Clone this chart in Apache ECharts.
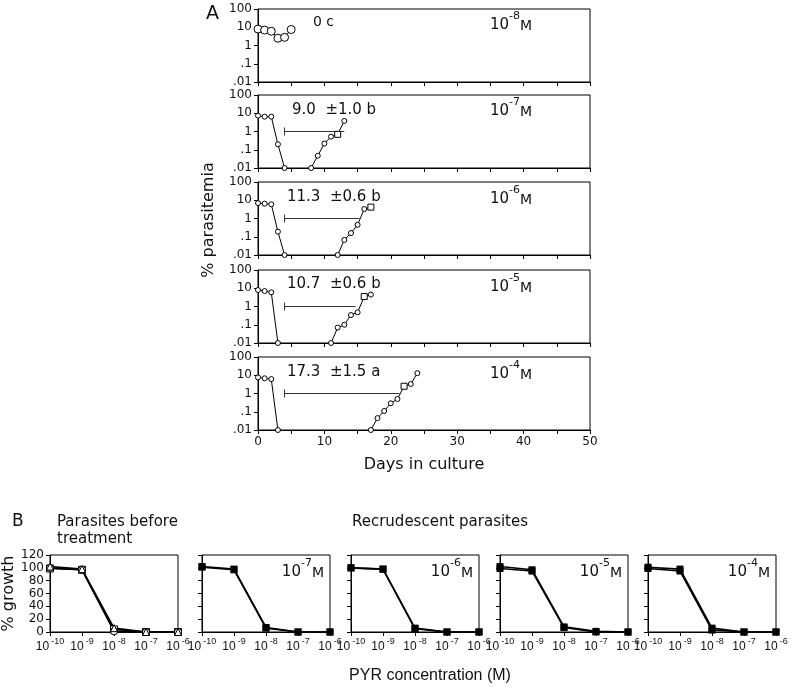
<!DOCTYPE html>
<html><head><meta charset="utf-8">
<script src="https://cdn.jsdelivr.net/npm/echarts/dist/echarts.min.js"></script>
<style>html,body{margin:0;padding:0;background:#fff}#c{width:800px;height:689px}</style>
</head><body><div id="c"></div>
<script>
// ---------- Panel A data (days in culture vs % parasitemia) ----------
const concExpA = ['-8', '-7', '-6', '-5', '-4'];
const a1Days = [0, 1, 2, 3, 4, 5];
const a1Vals = [8, 7, 6, 2.5, 2.8, 7.5];
const a2DropDays = [0, 1, 2, 3, 4];
const a2DropVals = [7.4, 6.5, 6.5, 0.2, 0.01];
const a2RiseDays = [8, 9, 10, 11, 12, 13];
const a2RiseVals = [0.01, 0.047, 0.22, 0.52, 0.7, 3.8];
const a3DropDays = [0, 1, 2, 3, 4];
const a3DropVals = [7, 6.5, 6, 0.19, 0.01];
const a3RiseDays = [12, 13, 14, 15, 16, 17];
const a3RiseVals = [0.01, 0.067, 0.16, 0.45, 3.3, 4.2];
const a4DropDays = [0, 1, 2, 3];
const a4DropVals = [8, 7, 6, 0.01];
const a4RiseDays = [11, 12, 13, 14, 15, 16, 17];
const a4RiseVals = [0.01, 0.07, 0.1, 0.34, 0.48, 3.5, 4.5];
const a5DropDays = [0, 1, 2, 3];
const a5DropVals = [7.6, 6.8, 6.2, 0.01];
const a5RiseDays = [17, 18, 19, 20, 21, 22, 23, 24];
const a5RiseVals = [0.01, 0.045, 0.11, 0.29, 0.5, 2.5, 3.3, 13];
// recrudescence time (days): mean, sd, letter; bar drawn at parasitemia 1 from day barStart
const recrudMean = [9.0, 11.3, 10.7, 17.3];
const recrudSd = ['1.0', '0.6', '0.6', '1.5'];
const recrudLetter = ['b', 'b', 'b', 'a'];
const barStart = 4;
const barLevel = 1;
const squareDay = [null, 12, 17, 16, 22];
const aXTicks = [0, 10, 20, 30, 40, 50];
const aYTickLabels = {'100': '100', '10': '10', '1': '1', '0.1': '.1', '0.01': '.01'};

// ---------- Panel B data (PYR concentration exponent vs % growth) ----------
const pyrExp = [-10, -9, -8, -7, -6];
const bConc = [null, '-7', '-6', '-5', '-4'];
const b1Tri = [102, 98, 6, 0, 0];
const b1Sq = [99, 97, 4, 0, 0];
const b1Circ = [100, 97, 1, 0, 0];
const b2A = [102, 98, 7, 0, 0];
const b2B = [101, 97, 6, 0, 0];
const b3A = [100, 98, 6, 0, 0];
const b3B = [100, 98, 5, 0, 0];
const b4A = [102, 97, 8, 1, 0];
const b4B = [99, 95, 7, 0, 0];
const b5A = [101, 98, 6, 0, 0];
const b5B = [99, 95, 3, 0, 0];

const FONT = 'DejaVu Sans';
const NARROW = 'Liberation Sans Narrow, Liberation Sans';
const chart = echarts.init(document.getElementById('c'), null, {renderer: 'canvas'});

const aTops = [9, 95, 182, 270, 357];
const aH = 73;
const bLefts = [50, 202, 351, 500, 648];
const bW = 128;
const bTop = 555, bH = 77;

const grids = [], xAxes = [], yAxes = [], series = [];

aTops.forEach((t, i) => {
  grids.push({left: 258, top: t, width: 332, height: aH, show: true, borderColor: '#000', borderWidth: 1, backgroundColor: 'transparent'});
  xAxes.push({type: 'value', gridIndex: i, min: 0, max: 50, interval: 5,
    axisLine: {lineStyle: {color: '#000', width: 1}},
    axisTick: {show: true, inside: false, length: 4, lineStyle: {color: '#000'}},
    splitLine: {show: false},
    axisLabel: {show: i === 4, color: '#111', fontFamily: FONT, fontSize: 12, margin: 6,
      formatter: v => aXTicks.indexOf(v) >= 0 ? String(v) : ''},
    name: i === 4 ? 'Days in culture' : '', nameLocation: 'middle', nameGap: 27,
    nameTextStyle: {fontFamily: FONT, fontSize: 16, color: '#111'}});
  yAxes.push({type: 'log', logBase: 10, gridIndex: i, min: 0.01, max: 100,
    axisLine: {show: true, lineStyle: {color: '#000', width: 1}},
    axisTick: {show: true, length: 4, lineStyle: {color: '#000'}},
    minorTick: {show: false}, splitLine: {show: false},
    axisLabel: {color: '#111', fontFamily: FONT, fontSize: 12, margin: 6,
      formatter: v => aYTickLabels[String(Number(v.toPrecision(3)))] || ''}});
});

bLefts.forEach((l, j) => {
  const gi = 5 + j;
  grids.push({left: l, top: bTop, width: bW, height: bH, show: true, borderColor: '#000', borderWidth: 1, backgroundColor: 'transparent'});
  xAxes.push({type: 'value', gridIndex: gi, min: -10, max: -6, interval: 1,
    axisLine: {lineStyle: {color: '#000', width: 1}},
    axisTick: {show: true, length: 4, lineStyle: {color: '#000'}},
    splitLine: {show: false},
    axisLabel: {color: '#111', fontFamily: NARROW, fontSize: 12, margin: 5,
      showMinLabel: true, showMaxLabel: true, hideOverlap: false,
      formatter: v => '{b|10}{s|' + String(v) + '}',
      rich: {b: {fontSize: 12, lineHeight: 16, verticalAlign: 'bottom', fontFamily: NARROW, color: '#111'},
             s: {fontSize: 9, lineHeight: 16, verticalAlign: 'top', padding: [0, 0, 0, 2], fontFamily: NARROW, color: '#111'}}}});
  yAxes.push({type: 'value', gridIndex: gi, min: 0, max: 120, interval: 20,
    axisLine: {show: true, lineStyle: {color: '#000', width: 1}},
    axisTick: {show: true, length: 4, lineStyle: {color: '#000'}},
    splitLine: {show: false},
    axisLabel: {show: j === 0, color: '#111', fontFamily: FONT, fontSize: 12, margin: 6},
    name: j === 0 ? '% growth' : '', nameLocation: 'middle', nameGap: 30, nameRotate: 90,
    nameTextStyle: {fontFamily: FONT, fontSize: 16, color: '#111'}});
});

function aLine(idx, days, vals, size, sq) {
  series.push({type: 'line', xAxisIndex: idx, yAxisIndex: idx, animation: false,
    data: days.map((d, k) => d === sq ? {value: [d, vals[k]], symbol: 'rect', symbolSize: size + 1} : [d, vals[k]]),
    symbol: 'circle', symbolSize: size, showAllSymbol: true,
    lineStyle: {color: '#000', width: 1},
    itemStyle: {color: '#fff', borderColor: '#000', borderWidth: 1}, z: 3});
}
aLine(0, a1Days, a1Vals, 8, null);
aLine(1, a2DropDays, a2DropVals, 5, null); aLine(1, a2RiseDays, a2RiseVals, 5, squareDay[1]);
aLine(2, a3DropDays, a3DropVals, 5, null); aLine(2, a3RiseDays, a3RiseVals, 5, squareDay[2]);
aLine(3, a4DropDays, a4DropVals, 5, null); aLine(3, a4RiseDays, a4RiseVals, 5, squareDay[3]);
aLine(4, a5DropDays, a5DropVals, 5, null); aLine(4, a5RiseDays, a5RiseVals, 5, squareDay[4]);

recrudMean.forEach((m, k) => {
  const idx = k + 1;
  series.push({type: 'line', xAxisIndex: idx, yAxisIndex: idx, animation: false, symbol: 'none',
    data: [{value: [barStart, barLevel], symbol: 'rect', symbolSize: [1, 8]}, {value: [barStart + m, barLevel], symbol: 'none'}],
    lineStyle: {color: '#333', width: 1}, itemStyle: {color: '#333'}, z: 2});
});

function bLine(idx, vals, sym, open) {
  series.push({type: 'line', xAxisIndex: idx, yAxisIndex: idx, animation: false,
    data: pyrExp.map((e, k) => [e, vals[k]]),
    symbol: sym, symbolSize: 7, showAllSymbol: true,
    lineStyle: {color: '#000', width: 1.6},
    itemStyle: open ? {color: '#fff', borderColor: '#000', borderWidth: 1} : {color: '#000'}, z: 3});
}
bLine(5, b1Sq, 'rect', true); bLine(5, b1Circ, 'circle', true); bLine(5, b1Tri, 'triangle', true);
bLine(6, b2A, 'rect', false); bLine(6, b2B, 'rect', false);
bLine(7, b3A, 'rect', false); bLine(7, b3B, 'rect', false);
bLine(8, b4A, 'rect', false); bLine(8, b4B, 'rect', false);
bLine(9, b5A, 'rect', false); bLine(9, b5B, 'rect', false);

// ---------- text annotations ----------
const richConc = {n: {fontFamily: FONT, fontSize: 15, lineHeight: 22, verticalAlign: 'bottom', fill: '#111'},
                  s: {fontFamily: FONT, fontSize: 11, lineHeight: 22, verticalAlign: 'top', fill: '#111'},
                  m: {fontFamily: FONT, fontSize: 14, lineHeight: 20, verticalAlign: 'bottom', fill: '#111'}};
const graphics = [];
function txt(text, x, y, size, align, extra) {
  graphics.push(Object.assign({type: 'text', x: x, y: y, silent: true,
    style: {text: text, fontFamily: FONT, fontSize: size, fill: '#111', align: align || 'left', verticalAlign: 'middle'}}, extra || {}));
}
txt('A', 206, 14, 19);
txt('0 c', 313, 22, 14);
const aConcY = [22, 108, 196, 284, 371];
concExpA.forEach((e, i) => {
  graphics.push({type: 'text', x: 490, y: aConcY[i], silent: true,
    style: {text: '{n|10}{s|' + e + '}{m|M}', rich: richConc, align: 'left', verticalAlign: 'middle'}});
});
const recY = [110, 197, 284, 372];
const recX = [292, 287, 287, 287];
recrudMean.forEach((m, k) => {
  txt(m.toFixed(1) + '  \u00B1' + recrudSd[k] + ' ' + recrudLetter[k], recX[k], recY[k], 15);
});
txt('% parasitemia', 0, 0, 16, 'center', {x: 209, y: 220, rotation: Math.PI / 2});
txt('B', 12, 522, 17);
txt('Parasites before', 57, 522, 15);
txt('treatment', 57, 539, 15);
txt('Recrudescent parasites', 440, 522, 15, 'center');
bConc.forEach((e, j) => {
  if (!e) return;
  graphics.push({type: 'text', x: bLefts[j] + bW - 6, y: bTop + 14, silent: true,
    style: {text: '{n|10}{s|' + e + '}{m|M}', rich: richConc, align: 'right', verticalAlign: 'middle'}});
});
graphics.push({type: 'text', x: 430, y: 676, silent: true,
  style: {text: 'PYR concentration (M)', fontFamily: NARROW, fontSize: 16, fill: '#111', align: 'center', verticalAlign: 'middle'}});

chart.setOption({animation: false, grid: grids, xAxis: xAxes, yAxis: yAxes, series: series, graphic: graphics});
</script></body></html>
